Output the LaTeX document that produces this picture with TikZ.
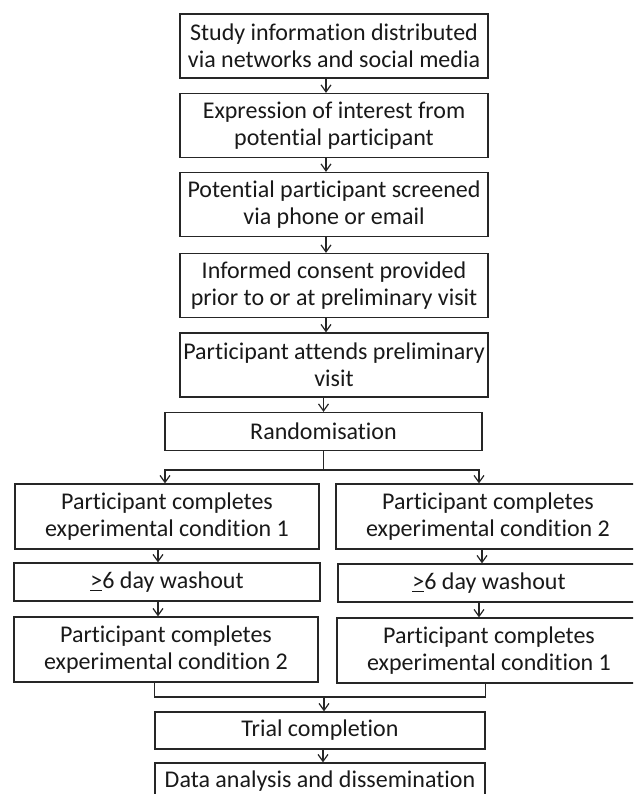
\documentclass[tikz,border=0pt]{standalone}
\usepackage{fontspec}
\setmainfont[Ligatures=NoCommon]{Carlito}
\usetikzlibrary{arrows.meta}
\begin{document}
\begin{tikzpicture}[x=1pt, y=-1pt,
    box/.style={draw=black!85, line width=1.2pt, align=center, inner sep=0pt,
        font=\fontsize{24}{27}\selectfont, text=black!90},
    wide/.style={box, minimum width=308pt, minimum height=64pt},
    half/.style={box, minimum width=304pt, minimum height=65pt},
    thin/.style={box, minimum height=38pt},
    link/.style={draw=black!85, line width=1.2pt},
    arr/.style={link, -{Straight Barb[length=7pt,width=10pt]}}]
    \useasboundingbox (0,0) rectangle (633,794);
    \clip (0,0) rectangle (633,794);
    % recruitment
    \node[wide] (s1) at (334,46)    {Study information distributed\\via networks and social media};
    \node[wide] (s2) at (334,125.5) {Expression of interest from\\potential participant};
    \node[wide] (s3) at (334,204.5) {Potential participant screened\\via phone or email};
    \node[wide] (s4) at (334,285.5) {Informed consent provided\\prior to or at preliminary visit};
    \node[wide] (s5) at (334,365)   {Participant attends preliminary\\visit};
    \node[thin, minimum width=317pt] (rand) at (323.5,431.5) {Randomisation};
    % crossover arms
    \node[half] (c1L) at (167,516.5) {Participant completes\\experimental condition 1};
    \node[thin, minimum width=306pt] (wL) at (167,582) {\underline{>}6 day washout};
    \node[half] (c2L) at (166,649.5) {Participant completes\\experimental condition 2};
    \node[half] (c1R) at (488,516.5) {Participant completes\\experimental condition 2};
    \node[thin, minimum width=302pt] (wR) at (489,583) {\underline{>}6 day washout};
    \node[half] (c2R) at (489,650.5) {Participant completes\\experimental condition 1};
    % close-out
    \node[thin, minimum width=330pt, minimum height=37pt] (trial) at (320,730.5) {Trial completion};
    \node[thin, minimum width=330pt, minimum height=37pt] (data) at (320,781.5) {Data analysis and dissemination};
    \coordinate (split) at (323.5,470);
    \coordinate (merge) at (324,697);
    \foreach \a/\b in {s1/s2,s2/s3,s3/s4,s4/s5}
        \draw[arr] ([xshift=-8pt]\a.south) -- ([xshift=-8pt]\b.north);
    \draw[arr] (s5.south -| rand) -- (rand.north);
    \draw[link] (rand.south) -- (split);
    \draw[arr] (split) -| ([xshift=-2pt]c1L.north);
    \draw[arr] (split) -| ([xshift=-9pt]c1R.north);
    \draw[arr] ([xshift=-9pt]c1L.south) -- ([xshift=-9pt]wL.north);
    \draw[arr] ([xshift=-9pt]wL.south) -- ([xshift=-8pt]c2L.north);
    \draw[arr] ([xshift=-6pt]c1R.south) -- ([xshift=-7pt]wR.north);
    \draw[arr] ([xshift=-10pt]wR.south) -- ([xshift=-10pt]c2R.north);
    \draw[link] (c2L.south -| trial.west) |- (merge) -| (c2R.south -| trial.east);
    \draw[arr] (merge) -- (merge |- trial.north);
    \draw[arr] ([xshift=3pt]trial.south) -- ([xshift=3pt]data.north);
\end{tikzpicture}
\end{document}
